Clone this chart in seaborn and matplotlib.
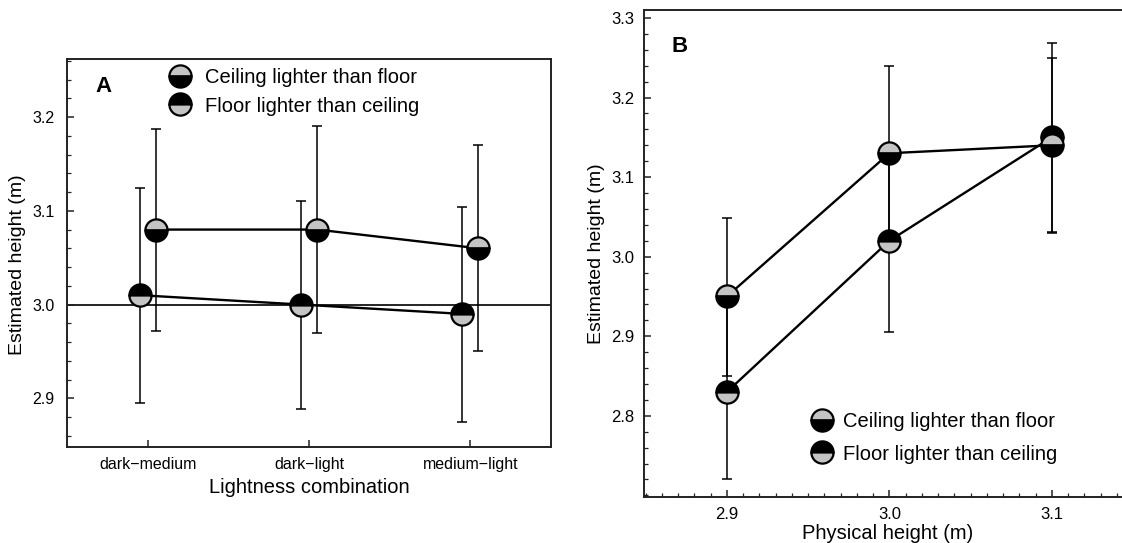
import numpy as np
import pandas as pd
import matplotlib
matplotlib.use("Agg")
import matplotlib.pyplot as plt
from matplotlib.lines import Line2D
from matplotlib.ticker import MultipleLocator, FixedLocator
import seaborn as sns

# ---------------- data ----------------
combos = ["dark\u2212medium", "dark\u2212light", "medium\u2212light"]
series_names = ["Ceiling lighter than floor", "Floor lighter than ceiling"]

# Panel A (lightness combination)
ceil_a = [3.08, 3.08, 3.06]
ceil_a_lo = [2.972, 2.970, 2.950]
ceil_a_hi = [3.187, 3.190, 3.170]
floor_a = [3.01, 3.00, 2.99]
floor_a_lo = [2.895, 2.889, 2.875]
floor_a_hi = [3.124, 3.110, 3.104]

# Panel B (physical height)
phys = [2.9, 3.0, 3.1]
ceil_b = [2.95, 3.13, 3.14]
ceil_b_lo = [2.850, 3.020, 3.030]
ceil_b_hi = [3.048, 3.240, 3.250]
floor_b = [2.83, 3.02, 3.15]
floor_b_lo = [2.720, 2.905, 3.031]
floor_b_hi = [2.945, 3.130, 3.268]

# ---------------- style ----------------
sns.set_style("ticks")
plt.rcParams["font.family"] = ["Liberation Sans", "DejaVu Sans"]
plt.rcParams["axes.linewidth"] = 1.4
plt.rcParams["axes.edgecolor"] = "#222222"
plt.rcParams["text.color"] = "black"
plt.rcParams["axes.labelcolor"] = "black"
plt.rcParams["xtick.labelcolor"] = "black"
plt.rcParams["ytick.labelcolor"] = "black"

GRAY = "#c4c4c4"
styles = {
    series_names[0]: dict(markerfacecolor=GRAY, markerfacecoloralt="black"),
    series_names[1]: dict(markerfacecolor="black", markerfacecoloralt=GRAY),
}
MS = 16

fig = plt.figure(figsize=(11.22, 5.43), dpi=100)
W, H = 1122, 543
axA = fig.add_axes([67 / W, 1 - 447 / H, (551 - 67) / W, (447 - 59) / H])
axB = fig.add_axes([644 / W, 1 - 497 / H, (1125 - 644) / W, (497 - 10) / H])


def draw_series(ax, x, y, lo, hi, name, z):
    y = np.asarray(y)
    yerr = [y - np.asarray(lo), np.asarray(hi) - y]
    ax.errorbar(x, y, yerr=yerr, fmt="none", ecolor="black", elinewidth=1.1,
                capsize=3.4, capthick=1.1, zorder=z)
    df = pd.DataFrame({"x": x, "y": y})
    sns.lineplot(data=df, x="x", y="y", ax=ax, color="black", linewidth=1.7,
                 marker="o", markersize=MS, fillstyle="top",
                 markeredgecolor="black", markeredgewidth=1.6,
                 errorbar=None, legend=False, zorder=z + 1, **styles[name])


def legend_handles():
    return [Line2D([], [], linestyle="none", marker="o", markersize=MS,
                   fillstyle="top", markeredgecolor="black",
                   markeredgewidth=1.6, **styles[n]) for n in series_names]


# ---------------- panel A ----------------
pos = np.arange(len(combos))
off = 0.05
axA.axhline(3.0, color="black", lw=1.2, zorder=0.5)
draw_series(axA, pos - off, floor_a, floor_a_lo, floor_a_hi, series_names[1], 2)
draw_series(axA, pos + off, ceil_a, ceil_a_lo, ceil_a_hi, series_names[0], 4)
axA.set_xlim(-0.5, 2.5)
axA.set_ylim(2.848, 3.262)
axA.set_xticks(pos)
axA.set_xticklabels(combos)
axA.yaxis.set_major_locator(FixedLocator([2.9, 3.0, 3.1, 3.2]))
axA.yaxis.set_minor_locator(MultipleLocator(0.02))
axA.tick_params(axis="both", which="major", direction="in", length=5,
                width=1.1, labelsize=11.5, color="#222222")
axA.tick_params(axis="y", which="major", pad=9)
axA.tick_params(axis="x", which="major", pad=7)
axA.tick_params(axis="y", which="minor", direction="in", length=3, width=0.9)
axA.set_xlabel("Lightness combination", fontsize=14.5)
axA.set_ylabel("Estimated height (m)", fontsize=14)
axA.xaxis.set_label_coords(0.5, -0.08)
axA.yaxis.set_label_coords(-0.085, 0.47)
for s in axA.spines.values():
    s.set_visible(True)
axA.legend(legend_handles(), series_names, loc="center left",
           bbox_to_anchor=(168 / W, 1 - 92 / H), bbox_transform=fig.transFigure,
           frameon=False, fontsize=14.5, handlelength=1.2, handletextpad=0.65,
           borderpad=0, borderaxespad=0, labelspacing=0.45)
fig.text(103 / W, 1 - 87 / H, "A", fontsize=16, fontweight="bold",
         ha="center", va="center")

# ---------------- panel B ----------------
draw_series(axB, phys, floor_b, floor_b_lo, floor_b_hi, series_names[1], 2)
draw_series(axB, phys, ceil_b, ceil_b_lo, ceil_b_hi, series_names[0], 4)
axB.set_xlim(2.849, 3.145)
axB.set_ylim(2.698, 3.31)
axB.xaxis.set_major_locator(FixedLocator(phys))
axB.xaxis.set_minor_locator(MultipleLocator(0.01))
axB.yaxis.set_major_locator(FixedLocator([2.8, 2.9, 3.0, 3.1, 3.2, 3.3]))
axB.yaxis.set_minor_locator(MultipleLocator(0.02))
axB.set_xticklabels(["2.9", "3.0", "3.1"])
axB.set_yticklabels(["2.8", "2.9", "3.0", "3.1", "3.2", "3.3"])
axB.tick_params(axis="both", which="major", direction="in", length=5,
                width=1.1, labelsize=12, color="#222222")
axB.tick_params(axis="both", which="minor", direction="in", length=3,
                width=0.9, color="#222222")
axB.tick_params(axis="y", which="major", pad=7)
axB.tick_params(axis="x", which="major", pad=7)
axB.spines["right"].set_visible(False)
axB.set_xlabel("Physical height (m)", fontsize=14.5)
axB.set_ylabel("Estimated height (m)", fontsize=14)
axB.xaxis.set_label_coords((888 - 644) / (1125 - 644), -0.056)
axB.yaxis.set_label_coords(-0.081, 0.5)
axB.legend(legend_handles(), series_names, loc="center left",
           bbox_to_anchor=(810 / W, 1 - 438 / H), bbox_transform=fig.transFigure,
           frameon=False, fontsize=14.5, handlelength=1.2, handletextpad=0.45,
           borderpad=0, borderaxespad=0, labelspacing=0.65)
fig.text(680 / W, 1 - 47 / H, "B", fontsize=16, fontweight="bold",
         ha="center", va="center")

fig.savefig("out.png", dpi=100)
